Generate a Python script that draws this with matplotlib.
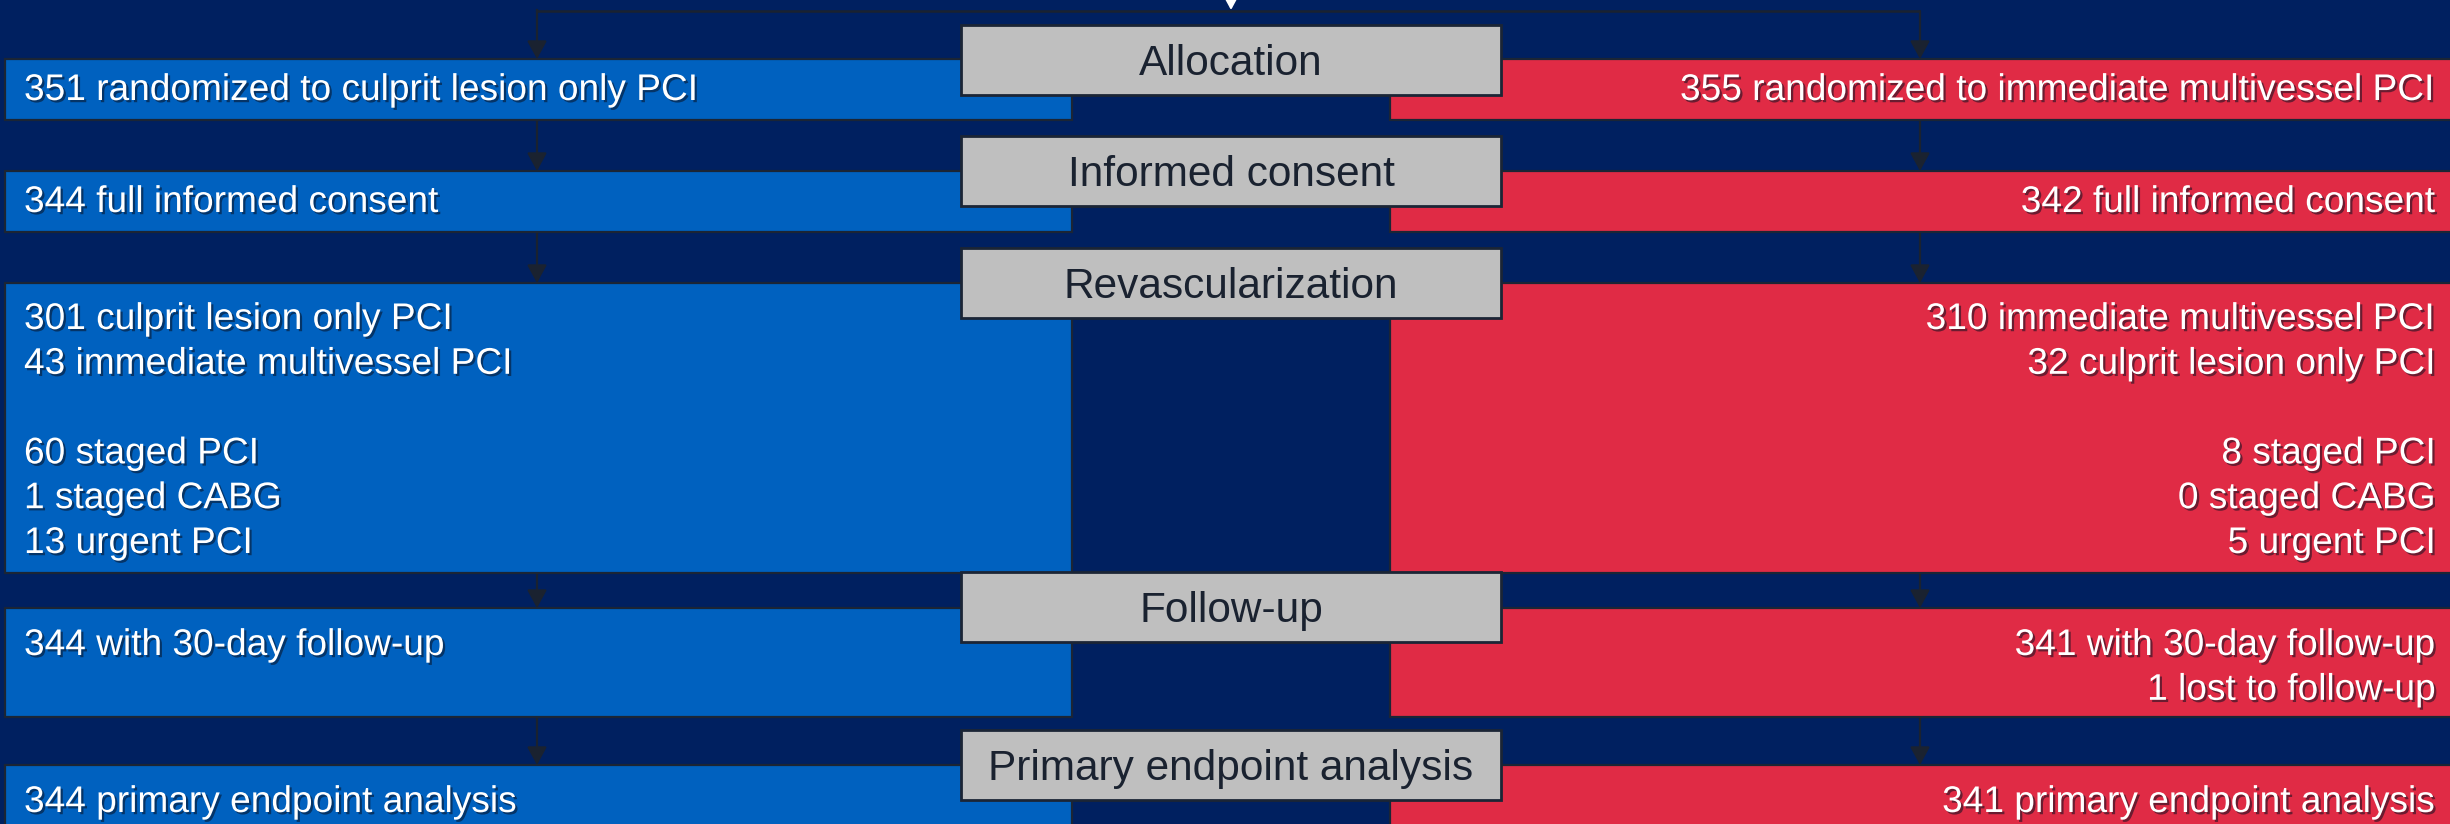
import matplotlib
matplotlib.use("Agg")
import matplotlib.pyplot as plt
import matplotlib.patches as mpatches
import matplotlib.patheffects as pe

# Trial flow: stage labels and the two arms
stages = ["Allocation", "Informed consent", "Revascularization",
          "Follow-up", "Primary endpoint analysis"]

culprit_arm = [
    ["351 randomized to culprit lesion only PCI"],
    ["344 full informed consent"],
    ["301 culprit lesion only PCI", "43 immediate multivessel PCI", "",
     "60 staged PCI", "1 staged CABG", "13 urgent PCI"],
    ["344 with 30-day follow-up"],
    ["344 primary endpoint analysis"],
]

multivessel_arm = [
    ["355 randomized to immediate multivessel PCI"],
    ["342 full informed consent"],
    ["310 immediate multivessel PCI", "32 culprit lesion only PCI", "",
     "8 staged PCI", "0 staged CABG", "5 urgent PCI"],
    ["341 with 30-day follow-up", "1 lost to follow-up"],
    ["341 primary endpoint analysis"],
]

# Layout (pixel units, y downwards)
W, H = 2450, 824
row_top = [59, 171, 283, 608, 765]
row_bottom = [120, 232, 573, 717, 840]
baseline_off = [41, 41, 46, 47, 47]
line_step = 44.8
stage_top = [25, 136, 248, 572, 730]
stage_h = 70
left_x0, left_x1 = 5, 1072
right_x0, right_x1 = 1390, 2460
stage_x0, stage_x1 = 961, 1501
left_arrow_x, right_arrow_x, center_x = 537, 1920, 1231
split_y = 11

BG = "#002060"
BLUE = "#0061BF"
RED = "#E02B45"
GRAY = "#BFBFBF"
EDGE = "#1B2535"
LINE = "#1A2230"

plt.rcParams["font.family"] = ["Liberation Sans", "DejaVu Sans"]

fig = plt.figure(figsize=(W / 100, H / 100), dpi=100, facecolor=BG)
ax = fig.add_axes([0, 0, 1, 1])
ax.set_facecolor(BG)
ax.set_xlim(0, W)
ax.set_ylim(H, 0)
ax.axis("off")

shadow = [pe.SimplePatchShadow(offset=(1.6, -1.6), shadow_rgbFace="#0a1020", alpha=0.55),
          pe.Normal()]


def arrow(x, y0, y1, color=LINE):
    ax.annotate("", xy=(x, y1), xytext=(x, y0),
                arrowprops=dict(arrowstyle="-|>,head_length=0.55,head_width=0.3",
                                mutation_scale=20, color=color, lw=1.6,
                                shrinkA=0, shrinkB=0), zorder=2)


# Split from the randomisation point into both arms
ax.plot([left_arrow_x, right_arrow_x], [split_y, split_y], color=LINE, lw=1.8,
        solid_capstyle="butt", zorder=2)
ax.plot([left_arrow_x, left_arrow_x], [split_y - 0.9, split_y], color=LINE, lw=1.6, zorder=2)
arrow(left_arrow_x, split_y, row_top[0])
arrow(right_arrow_x, split_y, row_top[0])
arrow(center_x, -12, split_y - 1, color="white")

for i in range(len(stages)):
    top, bot = row_top[i], row_bottom[i]
    ax.add_patch(mpatches.Rectangle((left_x0, top), left_x1 - left_x0, bot - top,
                                    facecolor=BLUE, edgecolor=EDGE, lw=1.6, zorder=3))
    ax.add_patch(mpatches.Rectangle((right_x0, top), right_x1 - right_x0, bot - top,
                                    facecolor=RED, edgecolor=EDGE, lw=1.6, zorder=3))

    base = top + baseline_off[i]
    for k, line in enumerate(culprit_arm[i]):
        if line:
            ax.text(left_x0 + 19, base + k * line_step, line, color="white",
                    fontsize=26.7, ha="left", va="baseline", zorder=5,
                    path_effects=shadow)
    for k, line in enumerate(multivessel_arm[i]):
        if line:
            ax.text(2436, base + k * line_step, line, color="white",
                    fontsize=26.7, ha="right", va="baseline", zorder=5,
                    path_effects=shadow)

    if i + 1 < len(stages):
        arrow(left_arrow_x, bot, row_top[i + 1])
        arrow(right_arrow_x, bot, row_top[i + 1])

    st = stage_top[i]
    ax.add_patch(mpatches.Rectangle((stage_x0, st), stage_x1 - stage_x0, stage_h,
                                    facecolor=GRAY, edgecolor=EDGE, lw=2.0, zorder=6))
    ax.text((stage_x0 + stage_x1) / 2, st + 50, stages[i], color="#1A2230",
            fontsize=30.5, ha="center", va="baseline", zorder=7)

fig.savefig("out.png", dpi=100, facecolor=BG)
